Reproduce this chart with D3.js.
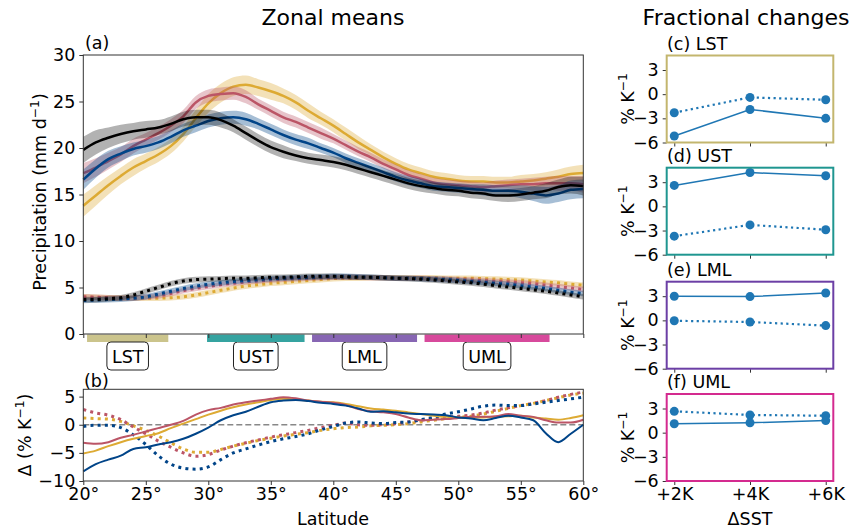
<!DOCTYPE html>
<html>
<head>
<meta charset="utf-8">
<script src="https://cdn.jsdelivr.net/npm/d3@7"></script>
<style>
body { margin: 0; background: #fff; }
text { font-family: "DejaVu Sans", sans-serif; fill: #000; }
</style>
</head>
<body>
<div id="chart"></div>
<script>
// latitude grid (degrees N)
var lat = [20,21,22,23,24,25,26,27,28,29,30,31,32,33,34,35,36,37,38,39,40,
           41,42,43,44,45,46,47,48,49,50,51,52,53,54,55,56,57,58,59,60];

// (a) total precipitation, mm/day
var precipCtl = [19.8,20.6,21.1,21.5,21.8,22.0,22.2,22.6,23.1,23.3,23.3,23.0,22.4,21.6,20.8,20.1,19.6,19.2,18.9,18.7,18.5,
                 18.2,17.8,17.4,17.0,16.6,16.2,15.9,15.7,15.5,15.4,15.2,15.1,14.9,14.9,15.0,15.2,15.4,15.8,16.0,15.9];
var precip2K  = [16.6,17.8,18.8,19.4,19.9,20.2,20.6,21.2,21.9,22.4,22.9,23.2,23.3,23.1,22.6,22.0,21.4,20.9,20.5,20.0,19.5,
                 18.9,18.4,17.9,17.4,16.9,16.5,16.2,15.9,15.8,15.7,15.6,15.5,15.4,15.4,15.3,15.1,14.9,15.1,15.5,15.6];
var precip4K  = [17.3,17.9,18.6,19.3,20.2,20.9,21.6,22.4,23.4,24.9,25.6,25.8,25.9,25.5,24.7,24.0,23.3,22.8,22.2,21.6,21.0,
                 20.3,19.6,19.0,18.3,17.7,17.1,16.7,16.3,16.1,16.0,15.9,15.8,15.9,16.0,16.1,16.1,16.2,16.2,16.2,16.1];
var precip6K  = [13.8,14.9,16.0,17.0,17.9,18.6,19.3,20.2,21.5,23.2,24.8,25.9,26.6,26.8,26.5,26.1,25.6,24.9,24.0,23.2,22.4,
                 21.5,20.6,19.8,19.0,18.3,17.7,17.3,16.9,16.7,16.5,16.4,16.4,16.3,16.3,16.4,16.5,16.7,16.9,17.2,17.3];

// half width of the shaded spread
var spreadCtl = [1.4,1.3,1.1,1.0,0.9,0.9,0.8,0.8,0.8,0.8,0.8,0.8,0.7,0.7,0.7,0.7,0.7,0.6,0.6,0.6,0.6,
                 0.6,0.6,0.6,0.6,0.6,0.6,0.6,0.6,0.6,0.6,0.6,0.6,0.6,0.7,0.7,0.7,0.8,0.8,0.9,1.0];
var spread2K  = [1.1,1.0,0.9,0.8,0.7,0.7,0.7,0.7,0.7,0.7,0.7,0.7,0.7,0.7,0.6,0.6,0.6,0.6,0.6,0.5,0.5,
                 0.5,0.5,0.5,0.5,0.5,0.5,0.5,0.5,0.5,0.5,0.5,0.6,0.6,0.6,0.7,0.8,0.9,0.9,1.0,1.0];
var spread4K  = [1.1,1.0,0.9,0.8,0.8,0.7,0.7,0.7,0.7,0.7,0.7,0.7,0.7,0.7,0.6,0.6,0.6,0.6,0.6,0.6,0.5,
                 0.5,0.5,0.5,0.5,0.5,0.5,0.5,0.5,0.5,0.5,0.5,0.5,0.6,0.6,0.6,0.7,0.7,0.8,0.8,0.9];
var spread6K  = [1.2,1.1,1.0,0.9,0.9,0.8,0.8,0.8,0.8,0.9,1.0,1.0,1.0,1.0,0.9,0.9,0.8,0.8,0.8,0.7,0.7,
                 0.7,0.7,0.6,0.6,0.6,0.6,0.6,0.6,0.6,0.6,0.6,0.6,0.6,0.6,0.7,0.7,0.7,0.8,0.8,0.9];

// (a) dotted series, mm/day
var dotCtl = [3.7,3.7,3.8,3.9,4.2,4.6,5.0,5.4,5.7,5.85,5.9,5.95,6.0,6.0,6.05,6.1,6.1,6.15,6.2,6.2,6.2,
              6.15,6.1,6.1,6.05,6.0,5.95,5.9,5.8,5.7,5.6,5.5,5.35,5.2,5.05,4.9,4.75,4.6,4.4,4.2,4.0];
var dot2K  = [3.6,3.65,3.7,3.75,3.85,4.0,4.3,4.6,4.9,5.15,5.35,5.5,5.65,5.75,5.85,5.95,6.0,6.05,6.1,6.15,6.2,
              6.2,6.15,6.1,6.05,6.0,6.0,5.95,5.9,5.85,5.75,5.65,5.55,5.45,5.35,5.2,5.05,4.9,4.7,4.5,4.35];
var dot4K  = [4.0,3.95,3.9,3.85,3.85,3.95,4.1,4.35,4.65,4.9,5.1,5.3,5.45,5.6,5.7,5.8,5.9,5.95,6.0,6.05,6.1,
              6.1,6.1,6.05,6.05,6.0,6.0,6.0,5.95,5.9,5.85,5.8,5.75,5.65,5.6,5.5,5.4,5.25,5.1,4.95,4.8];
var dot6K  = [4.0,3.95,3.9,3.85,3.85,3.85,3.85,3.9,4.0,4.2,4.45,4.7,4.95,5.15,5.3,5.45,5.55,5.65,5.75,5.85,5.95,
              6.0,6.0,6.05,6.05,6.05,6.05,6.05,6.05,6.0,6.0,6.0,5.95,5.9,5.85,5.8,5.7,5.6,5.5,5.35,5.25];
var dotSpread = 0.3;

// (b) changes, % per K
var delta2K = [-8.3,-7.0,-6.2,-5.5,-4.3,-4.0,-3.5,-3.1,-2.5,-1.6,-0.5,0.8,1.7,2.3,3.2,4.0,4.3,4.4,4.2,3.9,3.7,
               3.4,2.9,2.3,2.4,2.2,2.0,1.9,1.8,1.7,1.3,1.1,0.8,1.2,1.6,1.3,0.8,-1.5,-3.1,-1.6,0.0];
var delta4K = [-3.2,-3.4,-3.1,-2.3,-1.8,-1.2,-0.6,0.0,0.7,1.8,2.6,3.0,3.6,4.0,4.3,4.6,4.9,4.7,4.3,4.1,3.9,
               3.5,2.8,2.4,2.2,1.9,1.3,0.8,0.9,1.0,1.2,1.4,1.4,1.5,1.9,1.6,1.4,0.8,0.4,0.4,0.9];
var delta6K = [-5.1,-4.6,-3.8,-3.1,-2.5,-2.0,-1.5,-0.6,0.2,1.0,1.8,2.5,3.1,3.6,4.0,4.4,4.6,4.5,4.3,4.1,4.0,
               3.7,3.3,2.9,2.7,2.5,2.2,1.9,1.6,1.4,1.3,1.3,1.3,1.4,1.5,1.6,1.3,1.1,0.9,1.2,1.7];
var deltaDot2K = [-0.3,-0.1,-0.1,-0.5,-1.8,-3.5,-5.5,-7.0,-7.7,-7.9,-7.5,-6.2,-5.0,-4.3,-3.6,-3.0,-2.5,-2.1,-1.6,-0.9,-0.3,
                  0.3,0.5,0.3,0.2,0.4,0.5,0.9,1.3,1.9,2.3,2.8,3.3,3.5,3.4,3.4,3.7,4.0,4.3,4.6,4.9];
var deltaDot4K = [2.7,2.1,1.7,0.9,-0.4,-1.6,-2.9,-4.0,-5.0,-5.6,-5.3,-4.5,-3.8,-3.2,-2.7,-2.2,-1.8,-1.4,-1.0,-0.5,-0.1,
                  0.3,0.0,-0.1,0.0,0.2,0.5,0.8,1.1,1.3,1.5,1.7,2.1,2.6,3.0,3.4,3.8,4.3,4.9,5.4,5.8];
var deltaDot6K = [1.2,1.1,1.0,0.6,-0.2,-1.0,-2.0,-3.2,-4.3,-4.9,-4.9,-4.4,-3.8,-3.3,-2.8,-2.4,-2.0,-1.7,-1.4,-1.0,-0.7,
                  -0.5,-0.4,-0.2,-0.1,0.0,0.2,0.5,0.8,1.1,1.3,1.5,1.9,2.4,2.9,3.4,3.8,4.3,4.8,5.3,5.6];

// latitude bands
var regions     = ["LST", "UST", "LML", "UML"];
var regionStart = [20.3, 29.9, 38.3, 47.3];
var regionEnd   = [26.8, 37.7, 46.7, 57.3];

// (c)-(f) fractional changes
var sstLabels = ["+2K", "+4K", "+6K"];
var sstValues = [2, 4, 6];
var fracSolid  = [[-5.2, -1.9, -3.0], [2.6, 4.2, 3.8], [3.0, 2.95, 3.4], [1.1, 1.23, 1.5]];
var fracDotted = [[-2.3, -0.4, -0.7], [-3.7, -2.3, -2.9], [-0.05, -0.2, -0.65], [2.65, 2.2, 2.1]];

var colCtl = "#000000", col2K = "#004488", col4K = "#BB5566", col6K = "#DDAA33";
var regionFill  = ["#cbc48c", "#35a3a0", "#8766b3", "#d74a9c"];
var regionFrame = ["#c3b66e", "#1f9690", "#6c3fa5", "#d42a8f"];
var fs = 17.5;

var svg = d3.select("#chart").append("svg")
    .attr("width", 856).attr("height", 531);

var x = d3.scaleLinear().domain([20, 60]).range([83.3, 583.3]);
var ya = d3.scaleLinear().domain([0, 30]).range([334, 55]);
var yb = d3.scaleLinear().domain([-10, 6.3]).range([481, 389.3]);

function styleAxis(g) {
    g.selectAll("text").style("font-size", fs + "px");
    g.selectAll("line").attr("stroke", "#333");
    g.select(".domain").remove();
}

function frame(g, x0, x1, y0, y1, color, w) {
    g.append("rect")
        .attr("x", x0).attr("y", y0)
        .attr("width", x1 - x0).attr("height", y1 - y0)
        .attr("fill", "none").attr("stroke", color).attr("stroke-width", w);
}

function supLabel(g, tx, ty, pre, post) {
    var t = g.append("text")
        .attr("transform", "translate(" + tx + "," + ty + ") rotate(-90)")
        .attr("text-anchor", "middle")
        .style("font-size", fs + "px");
    t.append("tspan").text(pre);
    t.append("tspan").attr("dy", -7).style("font-size", (fs * 0.7) + "px").text("\u22121");
    t.append("tspan").attr("dy", 7).text(post);
}

// band + line
function series(g, y, vals, spread, color, dotted, lw) {
    var area = d3.area()
        .x(function (d, i) { return x(lat[i]); })
        .y0(function (d, i) { return y(vals[i] - (Array.isArray(spread) ? spread[i] : spread)); })
        .y1(function (d, i) { return y(vals[i] + (Array.isArray(spread) ? spread[i] : spread)); })
        .curve(d3.curveMonotoneX);
    if (spread !== null) {
        g.append("path").datum(vals)
            .attr("d", area)
            .attr("fill", color).attr("fill-opacity", color === colCtl ? 0.3 : 0.35);
    }
    var line = d3.line()
        .x(function (d, i) { return x(lat[i]); })
        .y(function (d) { return y(d); })
        .curve(d3.curveMonotoneX);
    g.append("path").datum(vals)
        .attr("d", line)
        .attr("fill", "none")
        .attr("stroke", color)
        .attr("stroke-width", lw)
        .attr("stroke-dasharray", dotted ? (lw + "," + (lw * 1.4)) : null);
}

// titles
svg.append("text").attr("x", 333).attr("y", 25).attr("text-anchor", "middle")
    .style("font-size", "22px").text("Zonal means");
svg.append("text").attr("x", 746).attr("y", 25).attr("text-anchor", "middle")
    .style("font-size", "22px").text("Fractional changes");

// ---- panel (a)
var ga = svg.append("g");
var solidA = [[precip6K, spread6K, col6K], [precip4K, spread4K, col4K], [precip2K, spread2K, col2K], [precipCtl, spreadCtl, colCtl]];
var dotA = [[dot6K, col6K], [dot4K, col4K], [dot2K, col2K], [dotCtl, colCtl]];
dotA.forEach(function (s) { series(ga, ya, s[0], dotSpread, s[1], true, 3); });
solidA.forEach(function (s) { series(ga, ya, s[0], s[1], s[2], false, 2.5); });

// region bars below the axis
regions.forEach(function (r, i) {
    ga.append("rect")
        .attr("x", x(regionStart[i])).attr("y", 334.5)
        .attr("width", x(regionEnd[i]) - x(regionStart[i])).attr("height", 7.5)
        .attr("fill", regionFill[i]);
    var cx = x((regionStart[i] + regionEnd[i]) / 2);
    var lbl = ga.append("text").attr("x", cx).attr("y", 362.5)
        .attr("text-anchor", "middle").style("font-size", fs + "px").text(r);
    var w = lbl.node().getComputedTextLength() + 10;
    ga.insert("rect", "text")
        .attr("x", cx - w / 2).attr("y", 342).attr("width", w).attr("height", 28)
        .attr("rx", 4).attr("fill", "#fff").attr("stroke", "#222").attr("stroke-width", 1);
});

ga.append("g").attr("transform", "translate(83.3,0)")
    .call(d3.axisLeft(ya).tickValues([0, 5, 10, 15, 20, 25, 30]).tickSize(4).tickPadding(4))
    .call(styleAxis);
ga.append("g").attr("transform", "translate(0,334)")
    .call(d3.axisBottom(x).tickValues([20, 25, 30, 35, 40, 45, 50, 55, 60]).tickSize(4).tickFormat(""))
    .call(styleAxis);
frame(ga, 83.3, 583.3, 55, 334, "#333", 1);
ga.append("text").attr("x", 85).attr("y", 49).style("font-size", fs + "px").text("(a)");
supLabel(ga, 46, 192, "Precipitation (mm d", ")");

// ---- panel (b)
var gb = svg.append("g");
gb.append("line").attr("x1", 83.3).attr("x2", 583.3).attr("y1", yb(0)).attr("y2", yb(0))
    .attr("stroke", "#888").attr("stroke-width", 1.5).attr("stroke-dasharray", "6,3");
[[deltaDot6K, col6K], [deltaDot4K, col4K], [deltaDot2K, col2K]].forEach(function (s) {
    series(gb, yb, s[0], null, s[1], true, 3);
});
[[delta6K, col6K], [delta4K, col4K], [delta2K, col2K]].forEach(function (s) {
    series(gb, yb, s[0], null, s[1], false, 2);
});
gb.append("g").attr("transform", "translate(83.3,0)")
    .call(d3.axisLeft(yb).tickValues([-10, -5, 0, 5]).tickSize(4).tickPadding(4))
    .call(styleAxis);
gb.append("g").attr("transform", "translate(0,481)")
    .call(d3.axisBottom(x).tickValues([20, 25, 30, 35, 40, 45, 50, 55, 60]).tickSize(4).tickPadding(3)
        .tickFormat(function (d) { return d + "\u00b0"; }))
    .call(styleAxis);
frame(gb, 83.3, 583.3, 389.3, 481, "#333", 1);
gb.append("text").attr("x", 84).attr("y", 387).style("font-size", fs + "px").text("(b)");
gb.append("text").attr("x", 333).attr("y", 525).attr("text-anchor", "middle")
    .style("font-size", fs + "px").text("Latitude");
supLabel(gb, 31, 435, "\u0394 (% K", ")");

// ---- panels (c)-(f)
var xr = d3.scaleLinear().domain([1.8, 6.2]).range([666.7, 833.3]);
var tops = [55.5, 167.7, 281.7, 394];
var letters = ["(c)", "(d)", "(e)", "(f)"];
var blue = "#1f77b4";
regions.forEach(function (r, k) {
    var g = svg.append("g");
    var y = d3.scaleLinear().domain([-6, 4.8]).range([tops[k] + 87, tops[k]]);
    var ln = d3.line().x(function (d, i) { return xr(sstValues[i]); }).y(function (d) { return y(d); });
    g.append("path").datum(fracDotted[k]).attr("d", ln).attr("fill", "none")
        .attr("stroke", blue).attr("stroke-width", 2.2).attr("stroke-dasharray", "2.2,3.4");
    g.append("path").datum(fracSolid[k]).attr("d", ln).attr("fill", "none")
        .attr("stroke", blue).attr("stroke-width", 1.5);
    fracDotted[k].concat(fracSolid[k]).forEach(function (v, i) {
        g.append("circle").attr("cx", xr(sstValues[i % 3])).attr("cy", y(v)).attr("r", 4.5).attr("fill", blue);
    });
    g.append("g").attr("transform", "translate(666.7,0)")
        .call(d3.axisLeft(y).tickValues([-6, -3, 0, 3]).tickSize(4).tickPadding(4))
        .call(styleAxis);
    g.append("g").attr("transform", "translate(0," + (tops[k] + 87) + ")")
        .call(d3.axisBottom(xr).tickValues(sstValues).tickSize(4).tickPadding(3)
            .tickFormat(function (d, i) { return k === 3 ? sstLabels[i] : ""; }))
        .call(styleAxis);
    frame(g, 666.7, 833.3, tops[k], tops[k] + 87, regionFrame[k], 2);
    g.append("text").attr("x", 667).attr("y", tops[k] - 6).style("font-size", fs + "px")
        .text(letters[k] + " " + r);
    supLabel(g, 634, tops[k] + 43.5, "% K", "");
});
svg.append("text").attr("x", 750).attr("y", 525).attr("text-anchor", "middle")
    .style("font-size", fs + "px").text("\u0394SST");
</script>
</body>
</html>
